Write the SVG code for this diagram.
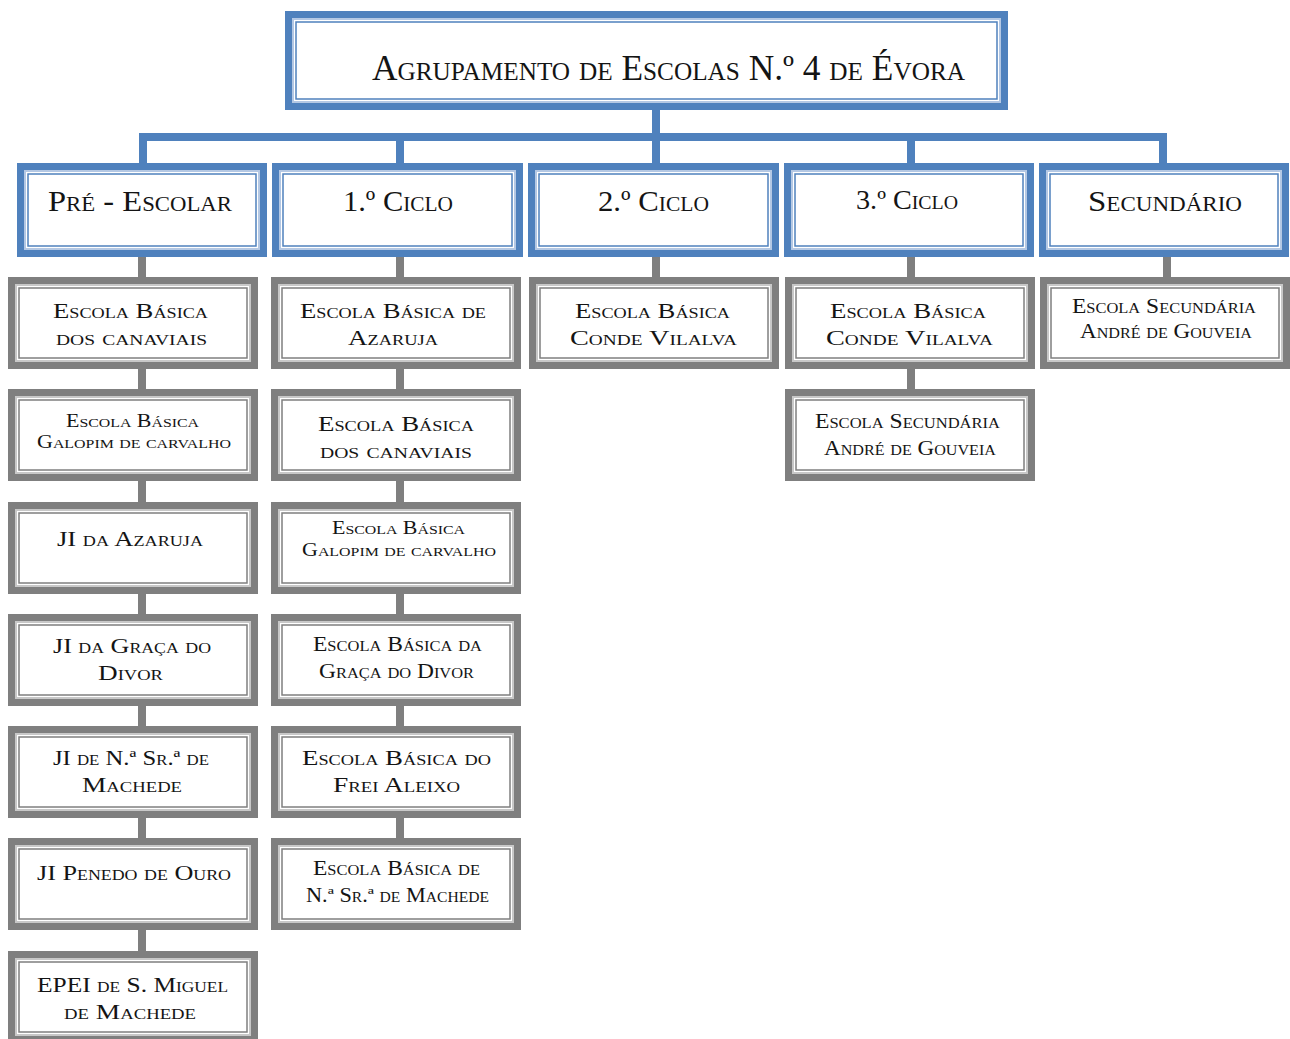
<svg xmlns="http://www.w3.org/2000/svg" width="1290" height="1039" viewBox="0 0 1290 1039">
<style>
.bo{fill:#fff;stroke:#4f81bd;stroke-width:7}
.bl{fill:none;stroke:#b4c8e4;stroke-width:2}
.bi{fill:none;stroke:#4f81bd;stroke-width:1.5}
.go{fill:#fff;stroke:#7f7f7f;stroke-width:7}
.gl{fill:none;stroke:#c8c8c8;stroke-width:2}
.gi{fill:none;stroke:#7f7f7f;stroke-width:1.5}
.cb{fill:#4f81bd}
.cg{fill:#7f7f7f}
text{font-family:"Liberation Serif","Times New Roman",serif;font-variant:small-caps;fill:#141414}
.t0{font-size:35px}
.t1{font-size:30px}
.t2{font-size:22px}
.t3{font-size:18px}
.t4{font-size:20px}
</style>
<g id="connectors">
<rect class="cb" x="652" y="108" width="8" height="30"/>
<rect class="cb" x="139" y="133" width="1028" height="8"/>
<rect class="cb" x="139" y="137" width="8" height="28"/>
<rect class="cb" x="396" y="137" width="8" height="28"/>
<rect class="cb" x="652" y="137" width="8" height="28"/>
<rect class="cb" x="907" y="137" width="8" height="28"/>
<rect class="cb" x="1159" y="137" width="8" height="28"/>
<rect class="cg" x="138" y="255" width="8" height="700"/>
<rect class="cg" x="396" y="255" width="8" height="587"/>
<rect class="cg" x="652" y="255" width="8" height="25"/>
<rect class="cg" x="907" y="255" width="8" height="137"/>
<rect class="cg" x="1163" y="255" width="8" height="25"/>
</g>
<g id="top">
<rect class="bo" x="288.5" y="14.5" width="716" height="92"/>
<rect class="bl" x="293" y="19" width="707" height="83"/>
<rect class="bi" x="296" y="22" width="701" height="77"/>
<text class="t0" x="372" y="80" textLength="593" lengthAdjust="spacingAndGlyphs">Agrupamento de Escolas N.º 4 de Évora</text>
</g>
<g id="pre">
<rect class="bo" x="20.5" y="166.5" width="243" height="87"/>
<rect class="bl" x="25" y="171" width="234" height="78"/>
<rect class="bi" x="28" y="174" width="228" height="72"/>
<text class="t1" x="48" y="211" textLength="184" lengthAdjust="spacingAndGlyphs">Pré - Escolar</text>
</g>
<g id="ciclo1">
<rect class="bo" x="275.5" y="166.5" width="244" height="87"/>
<rect class="bl" x="280" y="171" width="235" height="78"/>
<rect class="bi" x="283" y="174" width="229" height="72"/>
<text class="t1" x="343" y="211" textLength="110" lengthAdjust="spacingAndGlyphs">1.º Ciclo</text>
</g>
<g id="ciclo2">
<rect class="bo" x="531.5" y="166.5" width="244" height="87"/>
<rect class="bl" x="536" y="171" width="235" height="78"/>
<rect class="bi" x="539" y="174" width="229" height="72"/>
<text class="t1" x="598" y="211" textLength="111" lengthAdjust="spacingAndGlyphs">2.º Ciclo</text>
</g>
<g id="ciclo3">
<rect class="bo" x="787.5" y="166.5" width="243" height="87"/>
<rect class="bl" x="792" y="171" width="234" height="78"/>
<rect class="bi" x="795" y="174" width="228" height="72"/>
<text class="t1" x="856" y="209" textLength="102" lengthAdjust="spacingAndGlyphs" style="font-size:27px">3.º Ciclo</text>
</g>
<g id="secundario">
<rect class="bo" x="1042.5" y="166.5" width="243" height="87"/>
<rect class="bl" x="1047" y="171" width="234" height="78"/>
<rect class="bi" x="1050" y="174" width="228" height="72"/>
<text class="t1" x="1088" y="211" textLength="154" lengthAdjust="spacingAndGlyphs">Secundário</text>
</g>
<g id="p1">
<rect class="go" x="11.5" y="280.5" width="243" height="85"/>
<rect class="gl" x="16" y="285" width="234" height="76"/>
<rect class="gi" x="19" y="288" width="228" height="70"/>
<text class="t2" x="53" y="318" textLength="155" lengthAdjust="spacingAndGlyphs">Escola Básica</text>
<text class="t2" x="56" y="345" textLength="151" lengthAdjust="spacingAndGlyphs">dos canaviais</text>
</g>
<g id="p2">
<rect class="go" x="11.5" y="392.5" width="243" height="85"/>
<rect class="gl" x="16" y="397" width="234" height="76"/>
<rect class="gi" x="19" y="400" width="228" height="70"/>
<text class="t3" x="66" y="427" textLength="133" lengthAdjust="spacingAndGlyphs">Escola Básica</text>
<text class="t3" x="37" y="448" textLength="194" lengthAdjust="spacingAndGlyphs">Galopim de carvalho</text>
</g>
<g id="p3">
<rect class="go" x="11.5" y="505.5" width="243" height="85"/>
<rect class="gl" x="16" y="510" width="234" height="76"/>
<rect class="gi" x="19" y="513" width="228" height="70"/>
<text class="t2" x="57" y="546" textLength="146" lengthAdjust="spacingAndGlyphs">JI da Azaruja</text>
</g>
<g id="p4">
<rect class="go" x="11.5" y="617.5" width="243" height="85"/>
<rect class="gl" x="16" y="622" width="234" height="76"/>
<rect class="gi" x="19" y="625" width="228" height="70"/>
<text class="t2" x="53" y="653" textLength="158" lengthAdjust="spacingAndGlyphs">JI da Graça do</text>
<text class="t2" x="98" y="680" textLength="65" lengthAdjust="spacingAndGlyphs">Divor</text>
</g>
<g id="p5">
<rect class="go" x="11.5" y="729.5" width="243" height="85"/>
<rect class="gl" x="16" y="734" width="234" height="76"/>
<rect class="gi" x="19" y="737" width="228" height="70"/>
<text class="t2" x="53" y="765" textLength="156" lengthAdjust="spacingAndGlyphs">JI de N.ª Sr.ª de</text>
<text class="t2" x="82" y="792" textLength="100" lengthAdjust="spacingAndGlyphs">Machede</text>
</g>
<g id="p6">
<rect class="go" x="11.5" y="841.5" width="243" height="85"/>
<rect class="gl" x="16" y="846" width="234" height="76"/>
<rect class="gi" x="19" y="849" width="228" height="70"/>
<text class="t2" x="37" y="880" textLength="194" lengthAdjust="spacingAndGlyphs">JI Penedo de Ouro</text>
</g>
<g id="p7">
<rect class="go" x="11.5" y="954.5" width="243" height="85"/>
<rect class="gl" x="16" y="959" width="234" height="76"/>
<rect class="gi" x="19" y="962" width="228" height="70"/>
<text class="t2" x="37" y="992" textLength="191" lengthAdjust="spacingAndGlyphs">EPEI de S. Miguel</text>
<text class="t2" x="64" y="1019" textLength="132" lengthAdjust="spacingAndGlyphs">de Machede</text>
</g>
<g id="c1">
<rect class="go" x="274.5" y="280.5" width="243" height="85"/>
<rect class="gl" x="279" y="285" width="234" height="76"/>
<rect class="gi" x="282" y="288" width="228" height="70"/>
<text class="t2" x="300" y="318" textLength="186" lengthAdjust="spacingAndGlyphs">Escola Básica de</text>
<text class="t2" x="348" y="345" textLength="90" lengthAdjust="spacingAndGlyphs">Azaruja</text>
</g>
<g id="c2">
<rect class="go" x="274.5" y="392.5" width="243" height="85"/>
<rect class="gl" x="279" y="397" width="234" height="76"/>
<rect class="gi" x="282" y="400" width="228" height="70"/>
<text class="t2" x="318" y="431" textLength="156" lengthAdjust="spacingAndGlyphs">Escola Básica</text>
<text class="t2" x="320" y="458" textLength="152" lengthAdjust="spacingAndGlyphs">dos canaviais</text>
</g>
<g id="c3">
<rect class="go" x="274.5" y="505.5" width="243" height="85"/>
<rect class="gl" x="279" y="510" width="234" height="76"/>
<rect class="gi" x="282" y="513" width="228" height="70"/>
<text class="t3" x="332" y="534" textLength="133" lengthAdjust="spacingAndGlyphs">Escola Básica</text>
<text class="t3" x="302" y="556" textLength="194" lengthAdjust="spacingAndGlyphs">Galopim de carvalho</text>
</g>
<g id="c4">
<rect class="go" x="274.5" y="617.5" width="243" height="85"/>
<rect class="gl" x="279" y="622" width="234" height="76"/>
<rect class="gi" x="282" y="625" width="228" height="70"/>
<text class="t4" x="313" y="651" textLength="169" lengthAdjust="spacingAndGlyphs">Escola Básica da</text>
<text class="t4" x="319" y="678" textLength="155" lengthAdjust="spacingAndGlyphs">Graça do Divor</text>
</g>
<g id="c5">
<rect class="go" x="274.5" y="729.5" width="243" height="85"/>
<rect class="gl" x="279" y="734" width="234" height="76"/>
<rect class="gi" x="282" y="737" width="228" height="70"/>
<text class="t2" x="302" y="765" textLength="189" lengthAdjust="spacingAndGlyphs">Escola Básica do</text>
<text class="t2" x="333" y="792" textLength="127" lengthAdjust="spacingAndGlyphs">Frei Aleixo</text>
</g>
<g id="c6">
<rect class="go" x="274.5" y="841.5" width="243" height="85"/>
<rect class="gl" x="279" y="846" width="234" height="76"/>
<rect class="gi" x="282" y="849" width="228" height="70"/>
<text class="t4" x="313" y="875" textLength="167" lengthAdjust="spacingAndGlyphs">Escola Básica de</text>
<text class="t4" x="306" y="902" textLength="183" lengthAdjust="spacingAndGlyphs">N.ª Sr.ª de Machede</text>
</g>
<g id="d1">
<rect class="go" x="532.5" y="280.5" width="243" height="85"/>
<rect class="gl" x="537" y="285" width="234" height="76"/>
<rect class="gi" x="540" y="288" width="228" height="70"/>
<text class="t2" x="575" y="318" textLength="155" lengthAdjust="spacingAndGlyphs">Escola Básica</text>
<text class="t2" x="570" y="345" textLength="167" lengthAdjust="spacingAndGlyphs">Conde Vilalva</text>
</g>
<g id="e1">
<rect class="go" x="788.5" y="280.5" width="243" height="85"/>
<rect class="gl" x="793" y="285" width="234" height="76"/>
<rect class="gi" x="796" y="288" width="228" height="70"/>
<text class="t2" x="830" y="318" textLength="156" lengthAdjust="spacingAndGlyphs">Escola Básica</text>
<text class="t2" x="826" y="345" textLength="167" lengthAdjust="spacingAndGlyphs">Conde Vilalva</text>
</g>
<g id="e2">
<rect class="go" x="788.5" y="392.5" width="243" height="85"/>
<rect class="gl" x="793" y="397" width="234" height="76"/>
<rect class="gi" x="796" y="400" width="228" height="70"/>
<text class="t4" x="815" y="428" textLength="185" lengthAdjust="spacingAndGlyphs">Escola Secundária</text>
<text class="t4" x="824" y="455" textLength="172" lengthAdjust="spacingAndGlyphs">André de Gouveia</text>
</g>
<g id="s1">
<rect class="go" x="1043.5" y="280.5" width="243" height="85"/>
<rect class="gl" x="1048" y="285" width="234" height="76"/>
<rect class="gi" x="1051" y="288" width="228" height="70"/>
<text class="t4" x="1072" y="313" textLength="184" lengthAdjust="spacingAndGlyphs">Escola Secundária</text>
<text class="t4" x="1080" y="338" textLength="172" lengthAdjust="spacingAndGlyphs">André de Gouveia</text>
</g>
</svg>
